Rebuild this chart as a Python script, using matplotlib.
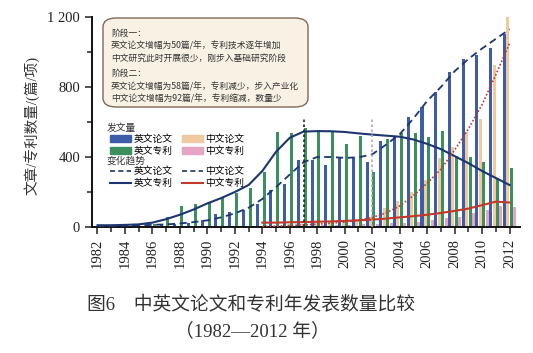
import matplotlib
matplotlib.use("Agg")
import matplotlib.pyplot as plt
import numpy as np
from matplotlib.lines import Line2D
from matplotlib.patches import FancyBboxPatch, Patch

plt.rcParams["font.family"] = ["Liberation Serif", "Noto Sans CJK SC", "DejaVu Sans"]

years = list(range(1982, 2013))

# 发文量 (bars)
en_papers = [8, 8, 10, 10, 12, 15, 18, 25, 40, 74, 87, 97, 131, 211, 246,
             383, 383, 354, 395, 392, 373, 491, 516, 630, 684, 773, 884, 958, 982, 1020, 1103]
en_patents = [0, 2, 5, 8, 20, 57, 122, 131, 140, 166, 194, 223, 316, 545, 539,
              566, 549, 543, 474, 521, 315, 503, 535, 535, 516, 549, 406, 400, 373, 278, 335]
cn_papers = [0, 0, 0, 0, 0, 0, 0, 0, 0, 0, 0, 0, 5, 8, 15,
             20, 25, 30, 35, 45, 60, 110, 150, 200, 270, 394, 457, 543, 617, 926, 1200]
cn_patents = [0, 0, 0, 0, 0, 0, 0, 0, 0, 0, 0, 0, 5, 6, 8,
              8, 10, 10, 12, 15, 18, 22, 25, 30, 40, 50, 60, 80, 100, 120, 115]

# 变化趋势 (lines)
en_papers_trend = [5, 6, 8, 10, 12, 15, 20, 28, 38, 55, 78, 110, 160, 228, 300,
                   370, 400, 400, 395, 398, 415, 470, 530, 620, 720, 800, 890, 960, 1020, 1075, 1130]
en_patents_trend = [10, 10, 12, 15, 25, 45, 70, 100, 135, 165, 200, 240, 320, 430, 510,
                    545, 548, 547, 543, 535, 528, 522, 516, 500, 475, 445, 405, 365, 320, 280, 240]
cn_papers_trend = [np.nan] * 12 + [3, 5, 8, 12, 16, 22, 28, 38, 55, 80, 120, 180, 250,
                                   330, 440, 560, 700, 870, 1050]
cn_patents_trend = [np.nan] * 12 + [25, 25, 27, 28, 30, 32, 35, 38, 42, 48, 55, 62, 70,
                                    80, 92, 105, 125, 145, 140]

stage_years = [1997, 2002]

c_en_paper = "#3d5caa"
c_en_patent = "#3c8f5f"
c_cn_paper = "#f1c9a1"
c_cn_patent = "#e6a3c4"
c_navy = "#1d3570"
c_red = "#c0392b"
cjk = ["Noto Sans CJK SC", "DejaVu Sans"]

fig = plt.figure(figsize=(5.33, 3.53), dpi=100)
ax = fig.add_axes([92 / 533, 1 - 227 / 353, (520 - 92) / 533, (227 - 17) / 353])

x = np.array(years, dtype=float)
w = 0.22
ax.bar(x - 0.375, en_papers, w, color=c_en_paper, zorder=2)
ax.bar(x - 0.125, cn_papers, w, color=c_cn_paper, zorder=2)
ax.bar(x + 0.125, en_patents, w, color=c_en_patent, zorder=2)
ax.bar(x + 0.375, cn_patents, w, color=c_cn_patent, zorder=2)

ax.plot(x, en_papers_trend, color=c_navy, lw=1.3, ls=(0, (4, 2.5)), zorder=4)
ax.plot(x, en_patents_trend, color=c_navy, lw=1.5, zorder=4)
ax.plot(x, cn_papers_trend, color=c_red, lw=1.2, ls=(0, (1, 1.2)), zorder=4)
ax.plot(x, cn_patents_trend, color=c_red, lw=1.5, zorder=4)

ax.vlines(stage_years[0], 0, 630, colors="#222222", lw=1.2, ls=(0, (1.5, 1.5)), zorder=5)
ax.vlines(stage_years[1], 0, 630, colors="#b0a8c0", lw=1.2, ls=(0, (1.5, 1.5)), zorder=5)

ax.set_xlim(1981.6, 2012.76)
ax.set_ylim(0, 1200)
ax.set_yticks([0, 400, 800, 1200])
ax.set_yticklabels(["0", "400", "800", "1 200"])
ax.set_yticks([200, 600, 1000], minor=True)
ax.set_xticks(years[::2])
ax.set_xticklabels([str(y) for y in years[::2]], rotation=90)
ax.set_xticks(years, minor=True)
ax.tick_params(axis="both", which="both", direction="out", color="#222222",
               labelsize=10.5, labelcolor="#222222", width=1.1)
ax.tick_params(axis="both", which="major", length=5)
ax.tick_params(axis="both", which="minor", length=3.5)
for s in ["top", "right"]:
    ax.spines[s].set_visible(False)
for s in ["left", "bottom"]:
    ax.spines[s].set_linewidth(1.4)
    ax.spines[s].set_color("#111111")

# stage notes
box = FancyBboxPatch((103 / 533, 1 - 107 / 353), 205 / 533, 89 / 353,
                     boxstyle="round,pad=0,rounding_size=0.025",
                     transform=fig.transFigure, facecolor="#f8f1e4",
                     edgecolor="#7d6a58", lw=1.0, zorder=6)
fig.patches.append(box)
notes = [
    (33, "阶段一："),
    (46, "英文论文增幅为50篇/年，专利技术逐年增加"),
    (58, "中文研究此时开展很少，刚步入基础研究阶段"),
    (73, "阶段二："),
    (87, "英文论文增幅为58篇/年，专利减少，步入产业化"),
    (99, "中文论文增幅为92篇/年，专利缩减，数量少"),
]
for ypx, t in notes:
    fig.text(111 / 533, 1 - ypx / 353, t, fontsize=6.3, family=cjk,
             color="#333333", va="center", ha="left", zorder=7)

# legends
fig.text(107 / 533, 1 - 128 / 353, "发文量", fontsize=7, family=cjk,
         color="#333333", va="center")
fig.text(107 / 533, 1 - 161 / 353, "变化趋势", fontsize=7, family=cjk,
         color="#333333", va="center")
bar_handles = [Patch(color=c_en_paper), Patch(color=c_en_patent),
               Patch(color=c_cn_paper), Patch(color=c_cn_patent)]
bar_labels = ["英文论文", "英文专利", "中文论文", "中文专利"]
leg1 = ax.legend(bar_handles, bar_labels, ncol=2, frameon=False,
                 prop={"family": cjk, "size": 7}, loc="upper left",
                 bbox_to_anchor=(110 / 533, 1 - 134 / 353),
                 bbox_transform=fig.transFigure, borderpad=0, borderaxespad=0,
                 handlelength=2.2, handleheight=0.6, labelspacing=0.2,
                 columnspacing=1.0, handletextpad=0.2)
ax.add_artist(leg1)
line_handles = [Line2D([], [], color=c_navy, lw=1.2, ls=(0, (3, 2))),
                Line2D([], [], color=c_navy, lw=1.5),
                Line2D([], [], color=c_navy, lw=1.2, ls=(0, (3, 2))),
                Line2D([], [], color=c_red, lw=1.5)]
ax.legend(line_handles, bar_labels, ncol=2, frameon=False,
          prop={"family": cjk, "size": 7}, loc="upper left",
          bbox_to_anchor=(110 / 533, 1 - 166 / 353),
          bbox_transform=fig.transFigure, borderpad=0, borderaxespad=0,
          handlelength=2.2, labelspacing=0.2, columnspacing=1.0,
          handletextpad=0.2)

fig.text(32 / 533, 1 - 125 / 353, "文章/专利数量/(篇/项)", rotation=90,
         fontsize=10.5, color="#333333", ha="center", va="center")

fig.text(251 / 533, 1 - 305 / 353, "图6　中英文论文和专利年发表数量比较",
         fontsize=13.5, color="#333333", ha="center", va="center")
fig.text(252 / 533, 1 - 331 / 353, "（1982—2012 年）",
         fontsize=13.5, color="#333333", ha="center", va="center")

fig.savefig("out.png", dpi=100)
